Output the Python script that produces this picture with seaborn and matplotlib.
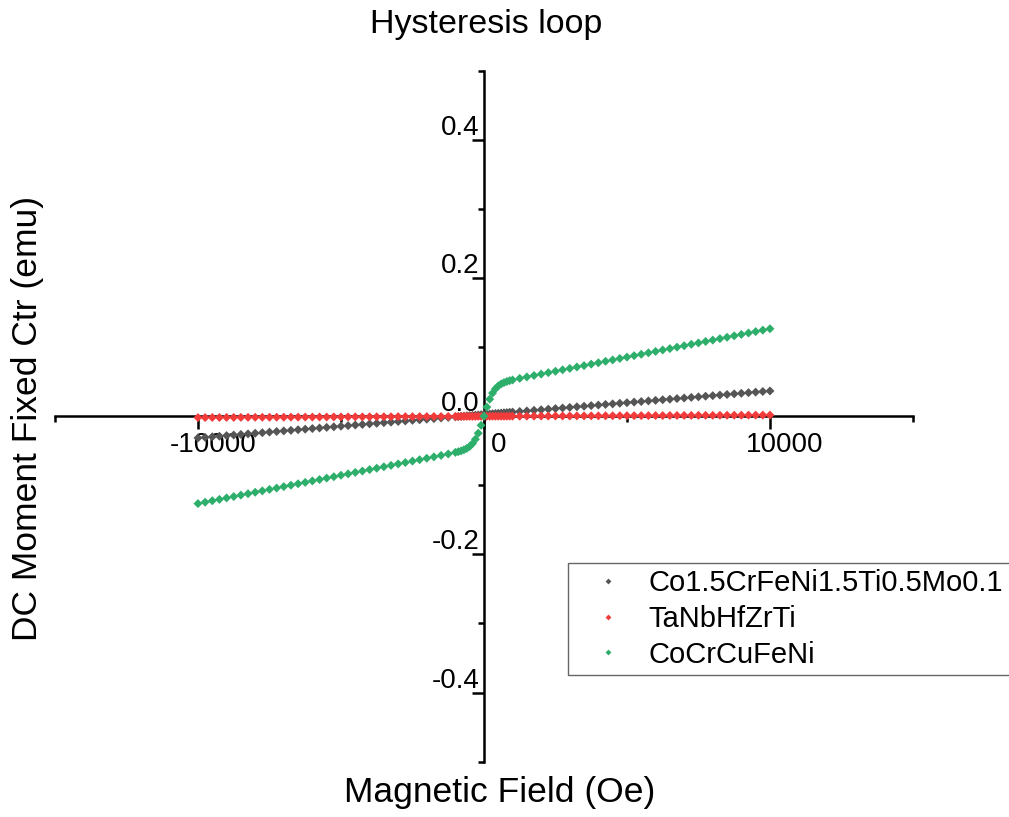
import matplotlib
matplotlib.use("Agg")
import pandas as pd
import seaborn as sns
import matplotlib.pyplot as plt
from matplotlib.ticker import FixedLocator, FixedFormatter
from matplotlib.transforms import ScaledTranslation

# Applied magnetic field (Oe)
field = [
    -10000, -9750, -9500, -9250, -9000, -8750, -8500, -8250, -8000, -7750,
    -7500, -7250, -7000, -6750, -6500, -6250, -6000, -5750, -5500, -5250,
    -5000, -4750, -4500, -4250, -4000, -3750, -3500, -3250, -3000, -2750,
    -2500, -2250, -2000, -1750, -1500, -1250, -1000,
    -900, -800, -700, -600, -500, -400, -300, -200, -100, 0,
    100, 200, 300, 400, 500, 600, 700, 800, 900,
    1000, 1250, 1500, 1750, 2000, 2250, 2500, 2750, 3000, 3250,
    3500, 3750, 4000, 4250, 4500, 4750, 5000, 5250, 5500, 5750,
    6000, 6250, 6500, 6750, 7000, 7250, 7500, 7750, 8000, 8250,
    8500, 8750, 9000, 9250, 9500, 9750, 10000,
]

# DC moment (emu) of each alloy
moment_co15 = [
    -0.0315, -0.0307, -0.0298, -0.0290, -0.0281, -0.0273, -0.0264, -0.0256, -0.0247, -0.0239,
    -0.0230, -0.0222, -0.0213, -0.0205, -0.0196, -0.0188, -0.0179, -0.0171, -0.0162, -0.0154,
    -0.0145, -0.0137, -0.0128, -0.0120, -0.0111, -0.0103, -0.0094, -0.0086, -0.0077, -0.0069,
    -0.0060, -0.0052, -0.0043, -0.0035, -0.0026, -0.0018, -0.0009,
    -0.0006, -0.0002, 0.0001, 0.0005, 0.0008, 0.0011, 0.0015, 0.0018, 0.0022, 0.0025,
    0.0028, 0.0032, 0.0035, 0.0039, 0.0042, 0.0045, 0.0049, 0.0052, 0.0056,
    0.0059, 0.0068, 0.0076, 0.0085, 0.0093, 0.0102, 0.0110, 0.0119, 0.0127, 0.0136,
    0.0144, 0.0153, 0.0161, 0.0170, 0.0178, 0.0187, 0.0195, 0.0204, 0.0212, 0.0221,
    0.0229, 0.0238, 0.0246, 0.0255, 0.0263, 0.0272, 0.0280, 0.0289, 0.0297, 0.0306,
    0.0314, 0.0323, 0.0331, 0.0340, 0.0348, 0.0357, 0.0365,
]

moment_tanb = [
    -0.0020, -0.0020, -0.0019, -0.0019, -0.0018, -0.0018, -0.0017, -0.0017, -0.0016, -0.0016,
    -0.0016, -0.0015, -0.0015, -0.0014, -0.0014, -0.0013, -0.0013, -0.0012, -0.0012, -0.0011,
    -0.0011, -0.0011, -0.0010, -0.0010, -0.0009, -0.0009, -0.0008, -0.0008, -0.0007, -0.0007,
    -0.0007, -0.0006, -0.0006, -0.0005, -0.0005, -0.0004, -0.0004,
    -0.0004, -0.0003, -0.0003, -0.0003, -0.0003, -0.0003, -0.0003, -0.0002, -0.0002, -0.0002,
    -0.0002, -0.0002, -0.0001, -0.0001, -0.0001, -0.0001, -0.0001, -0.0001, 0.0000,
    0.0000, 0.0000, 0.0001, 0.0001, 0.0002, 0.0002, 0.0003, 0.0003, 0.0003, 0.0004,
    0.0004, 0.0005, 0.0005, 0.0006, 0.0006, 0.0007, 0.0007, 0.0007, 0.0008, 0.0008,
    0.0009, 0.0009, 0.0010, 0.0010, 0.0011, 0.0011, 0.0012, 0.0012, 0.0012, 0.0013,
    0.0013, 0.0014, 0.0014, 0.0015, 0.0015, 0.0016, 0.0016,
]

moment_cocr = [
    -0.1265, -0.1245, -0.1224, -0.1204, -0.1183, -0.1163, -0.1142, -0.1122, -0.1101, -0.1081,
    -0.1060, -0.1040, -0.1019, -0.0999, -0.0978, -0.0958, -0.0937, -0.0917, -0.0896, -0.0876,
    -0.0855, -0.0835, -0.0814, -0.0794, -0.0773, -0.0753, -0.0732, -0.0712, -0.0691, -0.0671,
    -0.0650, -0.0630, -0.0609, -0.0589, -0.0568, -0.0547, -0.0524,
    -0.0514, -0.0502, -0.0486, -0.0466, -0.0438, -0.0396, -0.0334, -0.0246, -0.0132, 0.0000,
    0.0132, 0.0246, 0.0334, 0.0396, 0.0438, 0.0466, 0.0486, 0.0502, 0.0514,
    0.0524, 0.0547, 0.0568, 0.0589, 0.0609, 0.0630, 0.0650, 0.0671, 0.0691, 0.0712,
    0.0732, 0.0753, 0.0773, 0.0794, 0.0814, 0.0835, 0.0855, 0.0876, 0.0896, 0.0917,
    0.0937, 0.0958, 0.0978, 0.0999, 0.1019, 0.1040, 0.1060, 0.1081, 0.1101, 0.1122,
    0.1142, 0.1163, 0.1183, 0.1204, 0.1224, 0.1245, 0.1265,
]

samples = ["Co1.5CrFeNi1.5Ti0.5Mo0.1", "TaNbHfZrTi", "CoCrCuFeNi"]
series = [moment_co15, moment_tanb, moment_cocr]
colors = ["#555555", "#f23c3c", "#2eae6b"]

x_ticks = [-10000, 0, 10000]
x_tick_labels = ["-10000", "0", "10000"]
x_minor = [-15000, -5000, 5000, 15000]
y_ticks = [-0.4, -0.2, 0.0, 0.2, 0.4]
y_tick_labels = ["-0.4", "-0.2", "0.0", "0.2", "0.4"]
y_minor = [-0.5, -0.3, -0.1, 0.1, 0.3, 0.5]

df = pd.concat(
    [pd.DataFrame({"field": field, "moment": m, "sample": name})
     for name, m in zip(samples, series)],
    ignore_index=True,
)

sns.set_theme(style="white")
plt.rcParams["font.family"] = ["Liberation Sans", "DejaVu Sans"]
plt.rcParams["axes.unicode_minus"] = False
plt.rcParams["text.color"] = "black"
plt.rcParams["axes.labelcolor"] = "black"

fig = plt.figure(figsize=(10.09, 8.17), dpi=100)
ax = fig.add_axes([0.0545, 0.0677, 0.8503, 0.8458])

sns.scatterplot(
    data=df, x="field", y="moment", hue="sample", hue_order=samples,
    palette=colors, marker="D", s=21, linewidth=0, ax=ax, zorder=3,
)

ax.set_xlim(-15000, 15000)
ax.set_ylim(-0.5, 0.5)

# axes cross at the origin
for side in ("top", "right"):
    ax.spines[side].set_visible(False)
ax.spines["left"].set_position(("data", 0))
ax.spines["bottom"].set_position(("data", 0))
for side in ("left", "bottom"):
    ax.spines[side].set_linewidth(1.8)
    ax.spines[side].set_color("black")

ax.xaxis.set_major_locator(FixedLocator(x_ticks))
ax.xaxis.set_major_formatter(FixedFormatter(x_tick_labels))
ax.xaxis.set_minor_locator(FixedLocator(x_minor))
ax.yaxis.set_major_locator(FixedLocator(y_ticks))
ax.yaxis.set_major_formatter(FixedFormatter(y_tick_labels))
ax.yaxis.set_minor_locator(FixedLocator(y_minor))

ax.tick_params(which="both", direction="out", width=1.8, color="black",
               labelsize=20, labelcolor="black")
ax.tick_params(which="major", length=9)
ax.tick_params(which="minor", length=4)
ax.tick_params(axis="x", which="major", pad=2.5)
ax.tick_params(axis="y", which="major", pad=0)
ax.tick_params(axis="x", which="both", bottom=True)
ax.tick_params(axis="y", which="both", left=True)

# nudge tick labels off their ticks
x_shift = ScaledTranslation(0.15, 0, fig.dpi_scale_trans)
y_shift = ScaledTranslation(0.08, 0.15, fig.dpi_scale_trans)
for lab in ax.get_xticklabels():
    lab.set_transform(lab.get_transform() + x_shift)
for lab in ax.get_yticklabels():
    lab.set_transform(lab.get_transform() + y_shift)

ax.set_title("Hysteresis loop", fontsize=24.5, x=0.5023, y=1.0538, pad=0,
             va="baseline", color="black")
ax.set_xlabel("Magnetic Field (Oe)", fontsize=25.5, color="black")
ax.xaxis.label.set_va("baseline")
ax.xaxis.set_label_coords(0.5186, -0.0579)
ax.set_ylabel("DC Moment Fixed Ctr (emu)", fontsize=25.5, color="black")
ax.yaxis.label.set_va("center")
ax.yaxis.set_label_coords(-0.0326, 0.4974)

handles, labels = ax.get_legend_handles_labels()
ax.get_legend().remove()
leg = fig.legend(
    handles, labels, loc="upper left",
    bbox_to_anchor=(568 / 1009, 1 - 563 / 817), bbox_transform=fig.transFigure,
    fontsize=21, frameon=True, fancybox=False, framealpha=1,
    edgecolor="#666666", borderpad=0.22, borderaxespad=0,
    handlelength=2.3, handletextpad=0.25, labelspacing=0.26, markerscale=0.65,
)
leg.get_frame().set_linewidth(1.0)
for txt in leg.get_texts():
    txt.set_color("black")

fig.savefig("out.png", dpi=100)
